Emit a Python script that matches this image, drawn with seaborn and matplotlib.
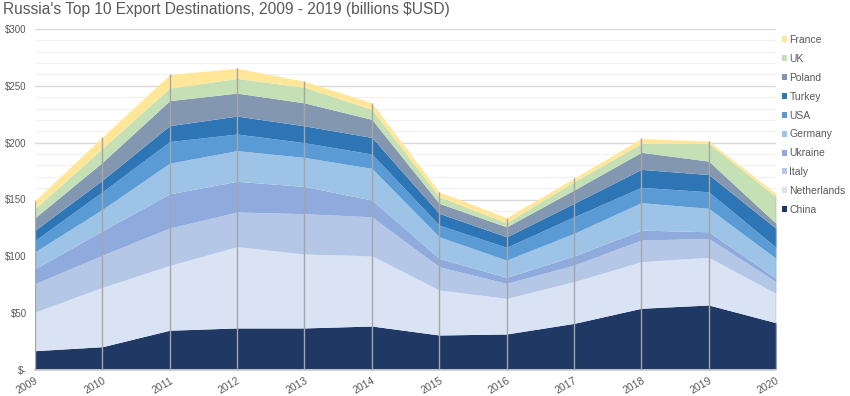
import matplotlib
matplotlib.use("Agg")
import matplotlib.pyplot as plt
from matplotlib.patches import Patch
from matplotlib.ticker import MultipleLocator, FuncFormatter
import numpy as np
import seaborn as sns

years = [2009, 2010, 2011, 2012, 2013, 2014, 2015, 2016, 2017, 2018, 2019, 2020]
countries = ["China", "Netherlands", "Italy", "Ukraine", "Germany", "USA", "Turkey", "Poland", "UK", "France"]
china       = [17.0, 20.5, 35.0, 37.0, 37.0, 38.7, 30.8, 31.7, 41.0, 54.3, 57.2, 41.6]
netherlands = [34.0, 52.2, 57.0, 71.5, 65.0, 61.8, 39.6, 31.3, 36.7, 41.0, 41.9, 25.8]
italy       = [25.0, 28.3, 33.0, 30.5, 35.5, 34.3, 20.5, 13.2, 14.6, 19.0, 16.7, 10.3]
ukraine     = [13.0, 21.5, 30.0, 27.0, 24.0, 14.7, 7.3, 5.3, 8.0, 8.8, 5.8, 2.9]
germany     = [15.0, 18.8, 27.0, 27.0, 25.5, 27.9, 19.0, 15.2, 19.9, 24.1, 20.6, 17.6]
usa         = [10.0, 15.5, 19.0, 14.6, 13.0, 12.6, 10.3, 11.2, 14.6, 13.5, 14.6, 9.7]
turkey      = [9.0, 10.2, 14.0, 15.8, 14.8, 14.6, 10.3, 9.3, 11.8, 15.8, 15.2, 16.7]
poland      = [11.0, 15.7, 22.0, 20.2, 20.2, 15.9, 8.8, 8.8, 11.7, 15.0, 11.8, 4.4]
uk          = [8.0, 12.3, 11.0, 12.9, 13.8, 8.8, 5.8, 3.6, 7.3, 7.8, 15.5, 23.5]
france      = [7.0, 10.0, 12.0, 9.0, 5.2, 5.8, 4.4, 4.4, 3.0, 4.4, 2.1, 2.7]
series = [china, netherlands, italy, ukraine, germany, usa, turkey, poland, uk, france]
colors = ["#1f3864", "#dae3f3", "#b4c7e7", "#8faadc", "#9dc3e6",
          "#5b9bd5", "#2e75b6", "#8497b0", "#c5e0b4", "#ffe699"]
title = "Russia's Top 10 Export Destinations, 2009 - 2019 (billions $USD)"

sns.set_theme(style="white")
plt.rcParams['font.family'] = ['Liberation Sans', 'DejaVu Sans']

fig = plt.figure(figsize=(8.5, 3.96), dpi=100)
ax = fig.add_axes([35/850, 1-370/396, (776-35)/850, (370-29)/396])

ax.stackplot(years, *series, colors=colors, linewidth=0, zorder=2)
totals = np.sum(np.array(series), axis=0)
ax.vlines(years, 0, totals, color="#a6a6a6", linewidth=1.0, zorder=3)

ax.set_xlim(2009, 2020)
ax.set_ylim(0, 300)
ax.yaxis.set_major_locator(MultipleLocator(50))
ax.yaxis.set_minor_locator(MultipleLocator(10))
ax.grid(which="major", axis="y", color="#d9d9d9", linewidth=1.0, zorder=0)
ax.grid(which="minor", axis="y", color="#f0f0f0", linewidth=0.8, zorder=0)
ax.grid(axis="x", visible=False)
ax.set_axisbelow(True)
for s in ["top", "right", "left"]:
    ax.spines[s].set_visible(False)
ax.spines["bottom"].set_color("#d9d9d9")
ax.yaxis.set_major_formatter(FuncFormatter(lambda v, p: "$-" if v == 0 else f"${int(v)}"))
ax.set_xticks(years)
ax.set_xticklabels([str(y) for y in years], rotation=30, ha="right", rotation_mode="anchor")
ax.tick_params(axis="both", which="both", length=0, labelsize=7.5, colors="#595959")
ax.tick_params(axis="x", pad=4)
ax.tick_params(axis="y", pad=6, labelsize=7)

fig.text(0.004, 0.995, title, ha="left", va="top", fontsize=11.2, color="#595959")

handles = [Patch(facecolor=c, edgecolor="none") for c in colors][::-1]
labels = countries[::-1]
leg = ax.legend(handles, labels, loc="upper left", bbox_to_anchor=(778/850, 1-31/396),
                bbox_transform=fig.transFigure, frameon=False, fontsize=7.5,
                handlelength=0.5, handleheight=0.5, handletextpad=0.2,
                labelspacing=0.85, borderaxespad=0)
for t in leg.get_texts():
    t.set_color("#595959")

fig.savefig("out.png", dpi=100)
